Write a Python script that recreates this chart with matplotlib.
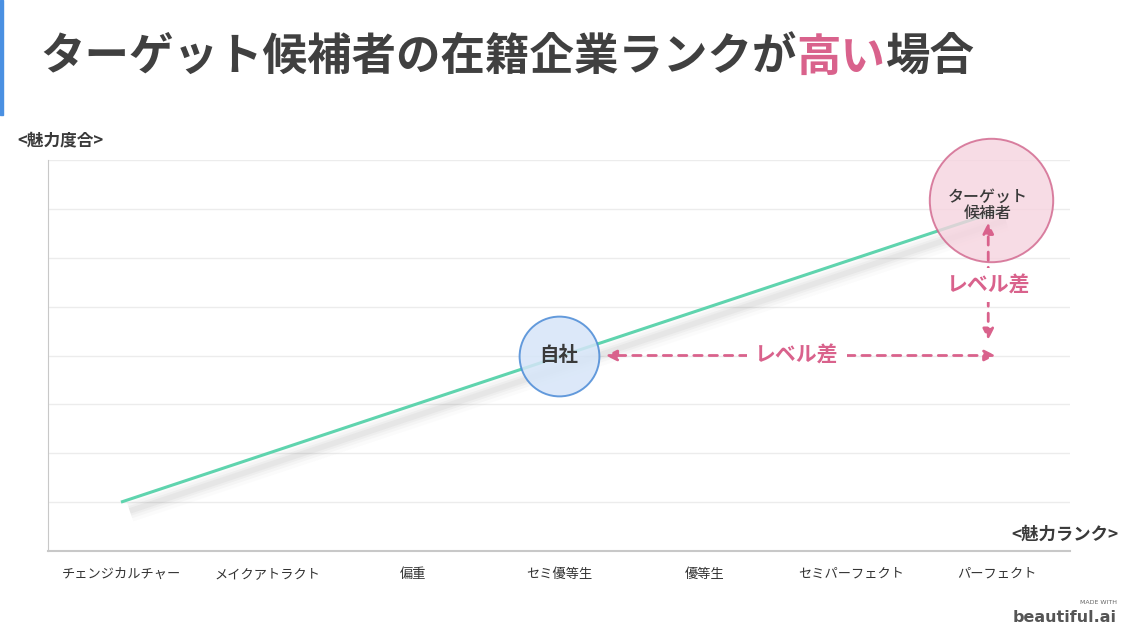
import numpy as np
import matplotlib.pyplot as plt
from matplotlib.patches import Rectangle

plt.rcParams['font.family'] = ['Noto Sans CJK JP', 'DejaVu Sans']

# data
ranks = ['チェンジカルチャー', 'メイクアトラクト', '偏重', 'セミ優等生', '優等生', 'セミパーフェクト', 'パーフェクト']
line_x = [0, 6]
line_y = [1.0, 6.95]
self_pos = (3, 4.0)
target_pos = (5.96, 7.18)
gap_y = 4.0          # horizontal "level gap" arrow height
gap_x = 5.94         # vertical "level gap" arrow position

pink = '#d9628c'
gray = '#404040'

fig = plt.figure(figsize=(11.3, 6.37), dpi=100)
ax = fig.add_axes([48/1130, 86/637, 1022/1130, 391/637])

xs = np.array(line_x) + 0.5

# soft shadow under the line
for w, a in [(16, 0.02), (11, 0.035), (7, 0.045), (4, 0.05)]:
    ax.plot(xs + 0.06, np.array(line_y) - 0.18, color='#555555', lw=w, alpha=a,
            solid_capstyle='butt', zorder=2)
ax.plot(xs, line_y, color='#5fd4ae', lw=2.2, zorder=3, solid_capstyle='butt')

# circles
ax.scatter([self_pos[0] + 0.5], [self_pos[1]], s=3300, facecolor='#d6e5f8',
           edgecolor='#4a8ad6', linewidth=1.4, alpha=0.85, zorder=4, clip_on=False)
ax.text(self_pos[0] + 0.5, self_pos[1], '自社', ha='center', va='center',
        fontsize=14, fontweight='bold', color='#3a3a3a', zorder=6)
ax.scatter([target_pos[0] + 0.5], [target_pos[1]], s=7900, facecolor='#f6d4df',
           edgecolor='#d0628a', linewidth=1.4, alpha=0.8, zorder=4, clip_on=False)
ax.text(target_pos[0] + 0.48, 7.08, 'ターゲット\n候補者', ha='center', va='center',
        fontsize=11.5, fontweight='medium', color='#3a3a3a', linespacing=0.95, zorder=6)

# level gap arrows
arr = dict(arrowstyle='<|-|>', color=pink, lw=2, linestyle=(0, (3, 2.5)),
           mutation_scale=16, shrinkA=0, shrinkB=0)
ax.annotate('', xy=(self_pos[0] + 0.82, gap_y), xytext=(gap_x + 0.55, gap_y),
            arrowprops=arr, zorder=5)
ax.text(5.13, gap_y, 'レベル差', ha='center', va='center', fontsize=15,
        fontweight='bold', color=pink, zorder=6,
        bbox=dict(facecolor='white', edgecolor='none', pad=6))
ax.annotate('', xy=(gap_x + 0.5, 6.72), xytext=(gap_x + 0.5, 4.32),
            arrowprops=arr, zorder=5)
ax.text(gap_x + 0.5, 5.44, 'レベル差', ha='center', va='center', fontsize=15,
        fontweight='bold', color=pink, zorder=6,
        bbox=dict(facecolor='white', edgecolor='none', pad=5))

ax.set_xlim(0, 7)
ax.set_ylim(0, 8)
ax.set_xticks(np.arange(7) + 0.5)
ax.set_xticklabels(ranks, fontsize=9.5, color='#333333')
ax.set_yticks(np.arange(1, 9))
ax.set_yticklabels([])
ax.tick_params(axis='both', length=0)
ax.tick_params(axis='x', pad=12)
ax.grid(axis='y', color='#ececec', lw=1)
ax.set_axisbelow(True)
for s in ['top', 'right']:
    ax.spines[s].set_visible(False)
ax.spines['left'].set_color('#c8c8c8')
ax.spines['bottom'].set_color('#c8c8c8')
ax.spines['bottom'].set_linewidth(1.5)

# axis captions
fig.text(17/1130, 1 - 140/637, '<魅力度合>', fontsize=12, fontweight='bold',
         color='#3a3a3a', ha='left', va='center')
fig.text(1118/1130, 1 - 535/637, '<魅力ランク>', fontsize=12.5, fontweight='bold',
         color='#3a3a3a', ha='right', va='center')

# left accent bar
fig.patches.append(Rectangle((0, 1 - 115/637), 3/1130, 115/637, transform=fig.transFigure,
                             color='#4a90e2', zorder=1))

# title with highlighted word
fig.canvas.draw()
r = fig.canvas.get_renderer()
x0 = 40/1130
yt = 1 - 58/637
for part, col in [('ターゲット候補者の在籍企業ランクが', gray), ('高い', pink), ('場合', gray)]:
    t = fig.text(x0, yt, part, fontsize=32, fontweight='bold', color=col,
                 ha='left', va='center')
    bb = t.get_window_extent(renderer=r)
    x0 += bb.width / fig.bbox.width

# watermark
fig.text(1117/1130, 1 - 602/637, 'MADE WITH', fontsize=4.5, color='#666666',
         ha='right', va='center', family='DejaVu Sans')
fig.text(1117/1130, 1 - 618/637, 'beautiful.ai', fontsize=11.5, fontweight='bold',
         color='#555555', ha='right', va='center', family='DejaVu Sans')

fig.savefig('out.png', dpi=100)
